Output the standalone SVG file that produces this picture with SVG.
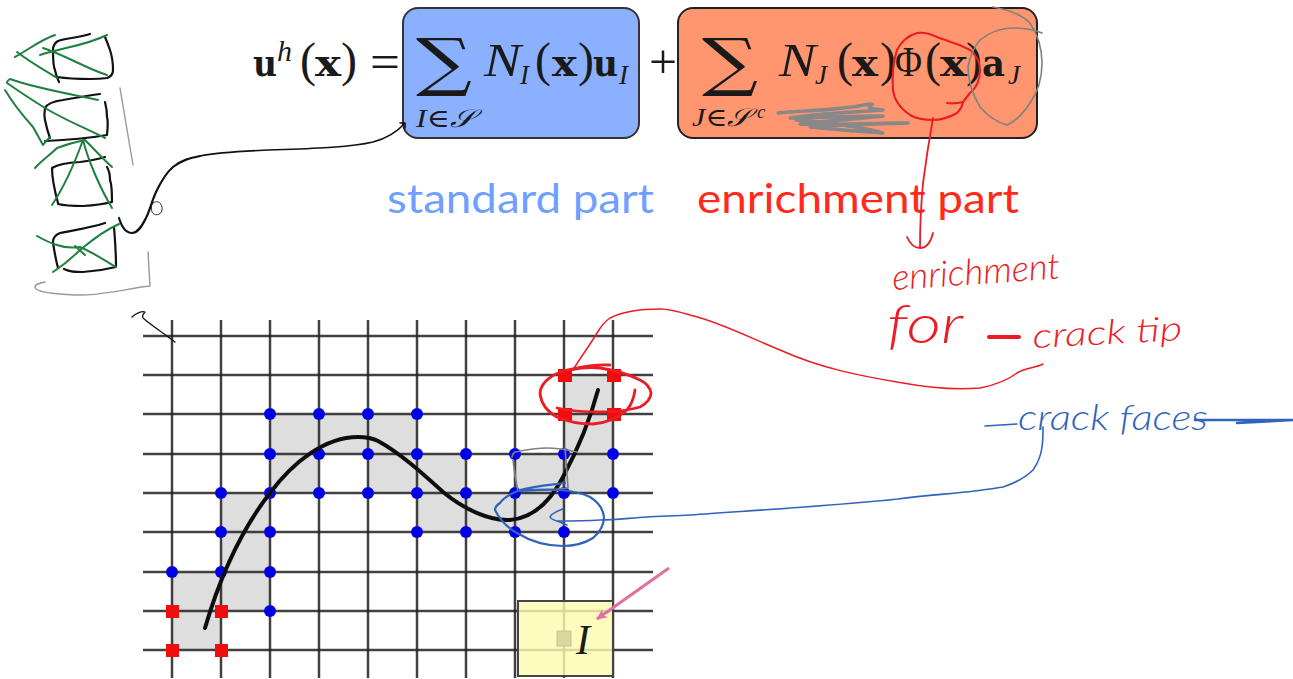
<svg xmlns="http://www.w3.org/2000/svg" width="1293" height="679" viewBox="0 0 1293 679">
<style>
.m{font-family:"Liberation Serif","DejaVu Serif",serif;fill:#1a1a1a}
.i{font-style:italic}
.bf{font-family:"DejaVu Serif",serif;font-weight:bold;font-size:35px;fill:#1a1a1a}
.pr{font-family:"Liberation Serif",serif;font-size:48px;fill:#1a1a1a}
.nn{font-size:47px}.sub{font-size:27px}.idx{font-size:25px}.sig{font-family:"DejaVu Serif",serif;font-size:64px;fill:#1a1a1a}
.lab{font-family:Lato,"Liberation Sans",sans-serif;font-size:40px}
.hand{font-family:Lato,"Liberation Sans",sans-serif;font-weight:300;font-style:italic}
.ink{fill:none;stroke-linecap:round;stroke-linejoin:round}
.k{stroke:#111;stroke-width:2.2}.g{stroke:#1f8040;stroke-width:2}.gr{stroke:#999;stroke-width:1.4}.r{stroke:#ed1c24;stroke-width:1.5}.bl{stroke:#2f63bd;stroke-width:1.6}
.grid line{stroke:#222;stroke-width:2.5;stroke-opacity:.85}
.cell{fill:#dedede}.bd{fill:#0606e6}.rd{fill:#f01010}
</style>
<defs>
<filter id="soft" x="-5%" y="-5%" width="110%" height="110%"><feGaussianBlur stdDeviation="0.5"/></filter>
<marker id="pinkHead" markerWidth="12" markerHeight="10" refX="10" refY="5" orient="auto" markerUnits="userSpaceOnUse"><path d="M0 0L11 5L0 10L3 5Z" fill="#e0709c"/></marker>
</defs>

<g id="mesh" filter="url(#soft)">
<g id="enriched-cells">
<rect class="cell" x="270" y="414" width="147" height="40"/><rect class="cell" x="270" y="454" width="49" height="39"/><rect class="cell" x="368" y="454" width="98" height="39"/><rect class="cell" x="515" y="454" width="98" height="39"/><rect class="cell" x="417" y="493" width="147" height="39"/><rect class="cell" x="221" y="493" width="49" height="79"/><rect class="cell" x="172" y="572" width="98" height="39"/><rect class="cell" x="172" y="611" width="49" height="39"/><rect class="cell" x="564" y="375" width="49" height="79"/>
</g>
<g class="grid">
<line x1="172" y1="320" x2="172" y2="678"/><line x1="221" y1="320" x2="221" y2="678"/><line x1="270" y1="320" x2="270" y2="678"/><line x1="319" y1="320" x2="319" y2="678"/><line x1="368" y1="320" x2="368" y2="678"/><line x1="417" y1="320" x2="417" y2="678"/><line x1="466" y1="320" x2="466" y2="678"/><line x1="515" y1="320" x2="515" y2="678"/><line x1="564" y1="320" x2="564" y2="678"/><line x1="613" y1="320" x2="613" y2="678"/>
<line x1="143" y1="336" x2="653" y2="336"/><line x1="143" y1="375" x2="653" y2="375"/><line x1="143" y1="414" x2="653" y2="414"/><line x1="143" y1="454" x2="653" y2="454"/><line x1="143" y1="493" x2="653" y2="493"/><line x1="143" y1="532" x2="653" y2="532"/><line x1="143" y1="572" x2="653" y2="572"/><line x1="143" y1="611" x2="653" y2="611"/><line x1="143" y1="650" x2="653" y2="650"/>
</g>
<g id="blue-nodes" class="bd">
<circle cx="270" cy="414" r="6"/><circle cx="319" cy="414" r="6"/><circle cx="368" cy="414" r="6"/><circle cx="417" cy="414" r="6"/>
<circle cx="270" cy="454" r="6"/><circle cx="319" cy="454" r="6"/><circle cx="368" cy="454" r="6"/><circle cx="417" cy="454" r="6"/><circle cx="466" cy="454" r="6"/><circle cx="515" cy="454" r="6"/><circle cx="564" cy="454" r="6"/><circle cx="613" cy="454" r="6"/>
<circle cx="221" cy="493" r="6"/><circle cx="270" cy="493" r="6"/><circle cx="319" cy="493" r="6"/><circle cx="368" cy="493" r="6"/><circle cx="417" cy="493" r="6"/><circle cx="466" cy="493" r="6"/><circle cx="515" cy="493" r="6"/><circle cx="564" cy="493" r="6"/><circle cx="613" cy="493" r="6"/>
<circle cx="221" cy="532" r="6"/><circle cx="270" cy="532" r="6"/><circle cx="417" cy="532" r="6"/><circle cx="466" cy="532" r="6"/><circle cx="515" cy="532" r="6"/><circle cx="564" cy="532" r="6"/>
<circle cx="172" cy="572" r="6"/><circle cx="221" cy="572" r="6"/><circle cx="270" cy="572" r="6"/><circle cx="270" cy="611" r="6"/>
</g>
<g id="red-nodes" class="rd">
<rect x="166" y="605" width="13" height="13"/><rect x="215" y="605" width="13" height="13"/><rect x="166" y="644" width="13" height="13"/><rect x="215" y="644" width="13" height="13"/><rect x="558" y="369" width="14" height="13"/><rect x="607" y="369" width="14" height="13"/><rect x="558" y="408" width="14" height="13"/><rect x="607" y="408" width="14" height="13"/>
</g>
<path id="crack" class="ink" stroke="#111" stroke-width="4" d="M205 628C222 570 245 525 270 493C293 462 325 437 358 437C368 437 372 438 378 441C400 453 422 473 443 492C465 510 490 521 510 520C535 518 552 498 563 477C578 449 590 420 598 390"/>
</g>

<g id="element-I">
<rect x="518" y="601" width="95" height="75" fill="#fdfbb0" fill-opacity=".82" stroke="#444" stroke-width="2"/>
<rect x="557" y="631" width="14" height="15" fill="#d8d8a0" stroke="#c4c48c"/>
<text class="m i" x="576" y="654" font-size="42">I</text>
</g>

<g id="term-standard">
<rect x="403" y="8" width="236" height="130" rx="15" fill="#8ab0ff" stroke="#333" stroke-width="2"/>
<text class="sig" x="416" y="84" textLength="56" lengthAdjust="spacingAndGlyphs">∑</text>
<text class="m i idx" x="416" y="127" textLength="58" lengthAdjust="spacingAndGlyphs">I∈𝒮</text>
<text class="m i nn" x="484" y="76" textLength="37" lengthAdjust="spacingAndGlyphs">N</text>
<text class="m i sub" x="520" y="84">I</text>
<text class="pr" x="535" y="76">(</text><text class="bf" x="552" y="76" textLength="25" lengthAdjust="spacingAndGlyphs">x</text><text class="pr" x="578" y="76">)</text>
<text class="bf" x="593" y="76" textLength="25" lengthAdjust="spacingAndGlyphs">u</text>
<text class="m i sub" x="619" y="84">I</text>
</g>
<g id="term-enrichment">
<rect x="678" y="8" width="359" height="130" rx="15" fill="#ff9670" stroke="#222" stroke-width="2"/>
<text class="sig" x="702" y="84" textLength="56" lengthAdjust="spacingAndGlyphs">∑</text>
<text class="m i idx" x="692" y="126" textLength="58" lengthAdjust="spacingAndGlyphs">J∈𝒮</text>
<text class="m i" x="757" y="118" font-size="19">c</text>
<text class="m i nn" x="779" y="76" textLength="37" lengthAdjust="spacingAndGlyphs">N</text>
<text class="m i sub" x="815" y="84">J</text>
<text class="pr" x="837" y="76">(</text><text class="bf" x="852" y="76" textLength="26" lengthAdjust="spacingAndGlyphs">x</text><text class="pr" x="880" y="76">)</text>
<text class="pr" x="895" y="76" textLength="27" lengthAdjust="spacingAndGlyphs" style="font-size:42px">Φ</text>
<text class="pr" x="925" y="76">(</text><text class="bf" x="940" y="76" textLength="27" lengthAdjust="spacingAndGlyphs">x</text><text class="pr" x="966" y="76">)</text>
<text class="bf" x="982" y="76" textLength="23" lengthAdjust="spacingAndGlyphs">a</text>
<text class="m i sub" x="1008" y="84">J</text>
</g>
<g id="lhs">
<text class="bf" x="253" y="76" textLength="24" lengthAdjust="spacingAndGlyphs">u</text><text class="m i" x="277" y="61" font-size="30">h</text>
<text class="pr" x="300" y="76">(</text><text class="bf" x="315" y="76" textLength="26" lengthAdjust="spacingAndGlyphs">x</text><text class="pr" x="341" y="76">)</text>
<text class="pr" x="370" y="78" textLength="30" lengthAdjust="spacingAndGlyphs">=</text>
<text class="pr" x="649" y="78" textLength="28" lengthAdjust="spacingAndGlyphs">+</text>
</g>
<g id="label-standard"><text class="lab" x="387" y="213" fill="#6f9fff" textLength="267" lengthAdjust="spacingAndGlyphs">standard part</text></g>
<g id="label-enrichment"><text class="lab" x="697" y="213" fill="#ff2a1a" textLength="322" lengthAdjust="spacingAndGlyphs">enrichment part</text></g>

<g id="handwritten-notes">
<text class="hand" fill="#ed1c24" font-size="36" transform="translate(893 290) rotate(-4)" textLength="168" lengthAdjust="spacingAndGlyphs">enrichment</text>
<text class="hand" fill="#ed1c24" font-size="54" x="887" y="343" textLength="76" lengthAdjust="spacingAndGlyphs">for</text>
<text class="hand" fill="#ed1c24" font-size="34" transform="translate(1033 348) rotate(-3)" textLength="150" lengthAdjust="spacingAndGlyphs">crack tip</text>
<text class="hand" fill="#2f63bd" font-size="36" x="1018" y="430" textLength="190" lengthAdjust="spacingAndGlyphs">crack faces</text>
</g>

<g id="connectors">
<g id="sketch-elements">
<path class="ink k" d="M90 34C78 38 66 38 58 41Q53 44 53 50C53 60 53 66 55 70Q56 76 59 82M57 77C70 79 80 79 90 79Q100 79 107 78Q113 76 113 70C113 60 112 56 110 50Q108 44 105 37"/>
<path class="ink k" d="M100 94C85 96 75 98 63 100Q48 102 45 108C44 114 44 116 45 120Q47 130 50 138M45 141C70 140 90 138 107 135C108 125 108 120 107 117Q107 110 105 102"/>
<path class="ink k" d="M105 157Q95 160 80 162Q60 163 52 168C52 180 55 192 58 203M58 204C66 206 75 206 83 206Q100 205 112 202C112 190 112 185 110 180Q110 172 107 167"/>
<path class="ink k" d="M105 223C90 228 75 230 60 233Q53 236 53 242C54 250 56 260 58 268M64 269C70 272 75 272 83 272Q100 271 116 267C116 250 115 240 114 227"/>
<path class="ink g" d="M55 35C40 40 28 50 15 57M17 52C30 62 44 70 57 78M40 55C60 48 85 46 107 35M43 48C65 55 85 68 107 75"/>
<path class="ink g" d="M98 100C70 94 35 88 10 79Q6 82 7 83C20 92 32 100 45 108C65 120 85 128 105 138M5 90C14 105 24 117 33 127Q38 136 43 145Q47 140 50 137"/>
<path class="ink g" d="M35 168C42 160 50 155 57 148Q70 143 85 140C95 150 104 160 112 167M52 205C62 190 74 165 83 140C88 160 100 188 112 208"/>
<path class="ink g" d="M37 236C44 240 50 243 57 245C65 248 72 248 80 247C92 252 104 260 116 267M53 272C62 266 72 258 80 250C92 240 105 230 119 224M75 246L85 255"/>
<path class="ink gr" d="M120 88L133 165M148 252L150 286C130 288 105 295 83 295C65 295 35 293 35 287C35 284 40 283 45 282"/>
<path class="ink" stroke="#333" stroke-width="1" d="M153 203C158 199 163 204 162 210C161 216 154 216 152 212C151 208 151 205 153 203"/>
<path class="ink k" d="M119 218C122 228 127 233 132 233C138 233 142 226 146 218C150 210 152 200 157 190C162 180 167 172 173 167C182 160 190 158 200 156"/>
</g>
<path id="link-sketch" class="ink" stroke="#111" stroke-width="1.6" d="M200 156C245 147 330 152 373 142C388 138 398 131 405 123M400 123H405V128"/>
<path id="tick-sketch" class="ink" stroke="#111" stroke-width="1.3" d="M132 317C136 313 142 311 145 312C143 314 142 316 143 318C152 326 165 334 175 342"/>
<path id="scribble" class="ink" stroke="#888" stroke-width="3.4" d="M778 113C800 110 830 112 870 104C880 104 855 108 883 110C850 112 805 115 790 118C820 118 870 115 883 116C860 119 810 122 800 124C830 126 880 122 908 123C880 124 830 125 810 127C840 130 870 132 883 133C870 129 830 122 796 120"/>
<path id="circle-phi" class="ink r" style="stroke-width:2.1" d="M947 103Q955 104 963 102Q962 108 957 113C950 117 942 120 933 120C922 120 915 118 910 115C900 108 894 100 893 90C892 76 893 62 897 50C902 40 910 35 917 33C925 32 930 34 937 37C950 42 962 45 970 50C976 55 980 62 980 70C980 80 976 88 970 93Q966 98 963 102"/>
<path id="link-phi" class="ink r" style="stroke-width:1.8" d="M933 118C930 135 926 160 923 183C921 205 920 225 920 247M907 237C910 244 915 248 920 248C927 248 931 241 933 233"/>
<path id="circle-aj" class="ink" stroke="#808080" stroke-width="1.6" d="M993 7C1010 10 1022 15 1030 23C1038 35 1042 50 1042 63C1042 80 1038 92 1030 103C1022 115 1015 122 1007 125C995 122 987 115 980 107C973 95 968 80 968 67C970 55 974 47 980 40C990 32 1002 28 1013 28C1025 28 1035 30 1042 33"/>
<path id="link-crack-tip" class="ink r" d="M1043 364C1035 368 1025 368 1017 373C1008 380 995 385 980 388C955 390 930 388 903 383C860 376 820 368 780 350C750 338 720 322 690 315C680 312 670 309 660 309C640 309 622 312 610 318C604 322 600 328 597 333C590 345 580 358 573 370"/>
<path id="circle-tip" class="ink" stroke="#ed1c24" stroke-width="2.8" d="M610 365C595 364 580 367 567 370C552 374 541 382 540 393C541 404 548 412 557 417C568 422 580 424 593 424C606 423 618 418 627 410C632 404 634 397 635 390M557 408C570 411 585 412 600 412C615 412 630 410 640 407C647 403 651 398 651 393C650 387 646 383 640 380C628 374 614 370 600 368C590 367 580 368 570 370"/>
<path id="cell-outline" class="ink" stroke="#808080" stroke-width="1.7" d="M512 457Q513 453 515 452C525 450 537 448 547 448C558 448 568 450 577 452M565 448C566 460 567 475 568 488M513 460C514 470 516 482 518 491C535 491 552 490 568 488"/>
<path id="circle-face" class="ink bl" style="stroke-width:2.2" d="M565 483C550 485 535 486 520 490C510 494 503 498 500 503C497 505 495 508 495 510C500 520 508 528 517 533C530 541 547 546 563 546C575 546 585 543 593 538C600 532 604 525 604 517C603 508 598 502 590 497C582 493 571 491 560 490C545 489 532 490 520 491"/>
<path id="link-crack-face" class="ink bl" d="M1043 427C1043 435 1043 441 1042 447C1041 455 1038 463 1033 470C1025 478 1015 483 1003 487C970 493 935 494 898 499C830 506 760 510 690 515C675 516 660 516 647 517C630 518 615 520 600 520C585 521 570 521 557 521C553 520 551 519 550 517C552 513 558 511 563 509M557 521C560 522 564 524 567 525"/>
<path id="dash-tip" class="ink" stroke="#ed1c24" stroke-width="4" d="M989 337H1019"/>
<path id="dash-face" class="ink bl" d="M985 426L1017 424"/>
<path id="tail-face" class="ink" stroke="#2f63bd" stroke-width="2.5" d="M1195 420H1293L1237 423"/>
<path id="arrow-I" fill="none" stroke="#e0709c" stroke-width="3" marker-end="url(#pinkHead)" d="M669 568L597 619"/>
</g>
</svg>
